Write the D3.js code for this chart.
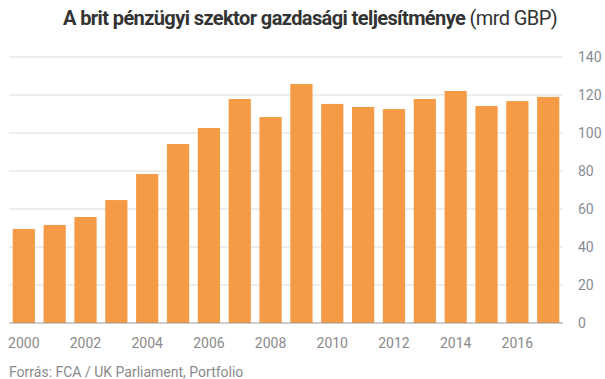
<!DOCTYPE html>
<html><head><meta charset="utf-8">
<script src="https://cdn.jsdelivr.net/npm/d3@7"></script>
<style>body{margin:0;background:#fff}svg{display:block}</style>
</head><body>
<svg id="c" width="605" height="379"></svg>
<script>
const years = ["2000","2001","2002","2003","2004","2005","2006","2007","2008","2009","2010","2011","2012","2013","2014","2015","2016","2017"];
const values = [49.5,51.6,55.8,64.7,78.4,94.2,102.6,117.9,108.4,125.8,115.3,113.7,112.6,117.9,122.1,114.2,116.8,119.0];
const yTicks = [0,20,40,60,80,100,120,140];
const xLabels = ["2000","2002","2004","2006","2008","2010","2012","2014","2016"];

const svg = d3.select("#c");
const x = d3.scaleBand().domain(years).range([9,563]).paddingInner(0.28).paddingOuter(0.12);
const y = d3.scaleLinear().domain([0,140]).range([323,57]);

svg.append("g").selectAll("line").data(yTicks.filter(d=>d>0)).join("line")
  .attr("x1",9).attr("x2",563).attr("y1",d=>y(d)).attr("y2",d=>y(d))
  .attr("stroke","#dcdcdc").attr("stroke-width",1);

svg.append("g").selectAll("rect").data(values).join("rect")
  .attr("x",(d,i)=>x(years[i])).attr("width",x.bandwidth())
  .attr("y",d=>y(d)).attr("height",d=>y(0)-y(d)).attr("fill","#f59b45");

svg.append("line").attr("x1",9).attr("x2",563).attr("y1",y(0)).attr("y2",y(0))
  .attr("stroke","#999").attr("stroke-width",1);

svg.append("g").selectAll("text").data(yTicks).join("text")
  .attr("x",578).attr("y",d=>y(d)+5).text(d=>d)
  .attr("font-family","Roboto").attr("font-size",14).attr("fill","#878c95");

svg.append("g").selectAll("text").data(xLabels).join("text")
  .attr("x",d=>x(d)+x.bandwidth()/2).attr("y",348).attr("text-anchor","middle").text(d=>d)
  .attr("font-family","Roboto").attr("font-size",14).attr("fill","#8a8a8a");

const t = svg.append("text").attr("x",310).attr("y",25).attr("text-anchor","middle")
  .attr("font-family","Roboto").attr("font-size",20).attr("fill","#333").attr("letter-spacing",-0.6);
t.append("tspan").attr("font-weight","bold").text("A brit pénzügyi szektor gazdasági teljesítménye");
t.append("tspan").attr("font-weight","normal").text(" (mrd GBP)");

svg.append("text").attr("x",9).attr("y",377).text("Forrás: FCA / UK Parliament, Portfolio")
  .attr("font-family","Roboto").attr("font-size",14).attr("fill","#8a8a8a");
</script>
</body></html>
